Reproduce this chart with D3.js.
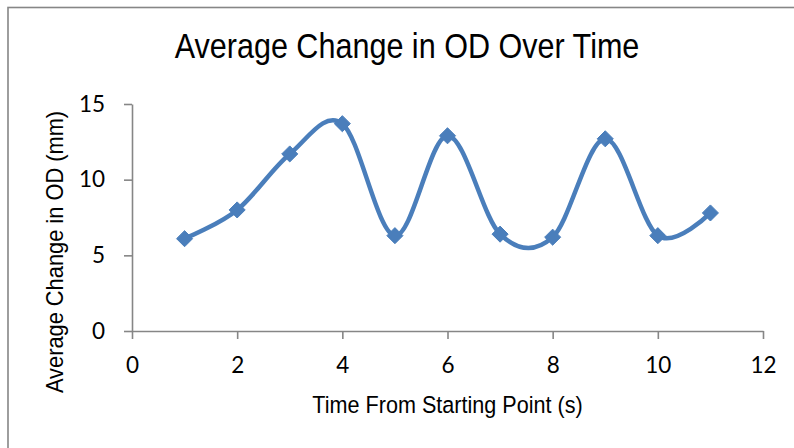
<!DOCTYPE html>
<html>
<head>
	<meta http-equiv="Content-Type" content="text/html; charset=utf-8"/>
	<title>Average Change in OD Over Time</title>
	<style>
		body { margin: 0; background: #fff; }
		svg { display: block; }
	</style>
</head>
<body>
	<svg width="794" height="448" id="viz"></svg>

	<script src="https://d3js.org/d3.v7.min.js"></script>
	<script>
		// Datos
		var tiempos = [1, 2, 3, 4, 5, 6, 7, 8, 9, 10, 11];
		var cambios = [6.1, 8.0, 11.7, 13.7, 6.3, 12.9, 6.4, 6.2, 12.7, 6.3, 7.8];
		var ticksX = [0, 2, 4, 6, 8, 10, 12];
		var ticksY = [0, 5, 10, 15];

		var puntos = tiempos.map((t, i) => ({t: t, v: cambios[i]}));

		const margin = {left: 132, top: 104},
			iwidth = 631, iheight = 227;
		const azul = "#4a7ebb", gris = "#868686";

		const x = d3.scaleLinear().domain([0, 12]).range([0, iwidth]);
		const y = d3.scaleLinear().domain([0, 15]).range([iheight, 0]);

		var svg = d3.select("#viz");

		// Borde del gráfico
		svg.append("rect")
			.attr("x", 8).attr("y", 7.5)
			.attr("width", 820).attr("height", 480)
			.attr("fill", "none")
			.attr("stroke", gris)
			.attr("stroke-width", 1.6);

		// Titulo
		svg.append("text")
			.attr("transform", "translate(407,58) scale(0.97,1.12)")
			.attr("text-anchor", "middle")
			.attr("font-family", "Liberation Sans, Arial, sans-serif")
			.attr("font-size", "31.5px")
			.attr("fill", "#000")
			.text("Average Change in OD Over Time");

		const g = svg.append("g").attr("transform", `translate(${margin.left},${margin.top})`);

		// Eje x
		g.append("g")
			.attr("transform", `translate(0,${iheight})`)
			.call(d3.axisBottom(x).tickValues(ticksX).tickSize(8).tickSizeOuter(0).tickPadding(18))
			.call(a => a.selectAll("path, line").attr("stroke", gris).attr("stroke-width", 1.6))
			.call(a => a.selectAll("text")
				.attr("font-family", "Lato, Noto Sans, sans-serif")
				.attr("font-size", "22.5px")
				.attr("fill", "#000"));

		// Eje y
		g.append("g")
			.call(d3.axisLeft(y).tickValues(ticksY).tickSize(8).tickSizeOuter(0).tickPadding(19))
			.call(a => a.selectAll("path, line").attr("stroke", gris).attr("stroke-width", 1.6))
			.call(a => a.selectAll("text")
				.attr("font-family", "Lato, Noto Sans, sans-serif")
				.attr("font-size", "22.5px")
				.attr("fill", "#000"));

		// Titulos de ejes
		svg.append("text")
			.attr("transform", `translate(${margin.left + iwidth / 2},413) scale(0.96,1.1)`)
			.attr("text-anchor", "middle")
			.attr("font-family", "Liberation Sans, Arial, sans-serif")
			.attr("font-size", "22.5px")
			.attr("fill", "#000")
			.text("Time From Starting Point (s)");

		svg.append("text")
			.attr("transform", "translate(63,252) rotate(-90) scale(0.97,1.1)")
			.attr("text-anchor", "middle")
			.attr("font-family", "Liberation Sans, Arial, sans-serif")
			.attr("font-size", "22.5px")
			.attr("fill", "#000")
			.text("Average Change in OD (mm)");

		// Linea suavizada
		const linea = d3.line()
			.x(d => x(d.t))
			.y(d => y(d.v))
			.curve(d3.curveCardinal.tension(0));

		g.append("path")
			.datum(puntos)
			.attr("d", linea)
			.attr("fill", "none")
			.attr("stroke", azul)
			.attr("stroke-width", 4.5)
			.attr("stroke-linejoin", "round");

		// Marcadores (rombos)
		g.selectAll("path.marca")
			.data(puntos)
			.enter()
			.append("path")
			.attr("class", "marca")
			.attr("d", d3.symbol().type(d3.symbolDiamond2).size(165))
			.attr("transform", d => `translate(${x(d.t)},${y(d.v)})`)
			.attr("fill", azul)
			.attr("stroke", azul)
			.attr("stroke-width", 1);
	</script>
</body>
</html>
